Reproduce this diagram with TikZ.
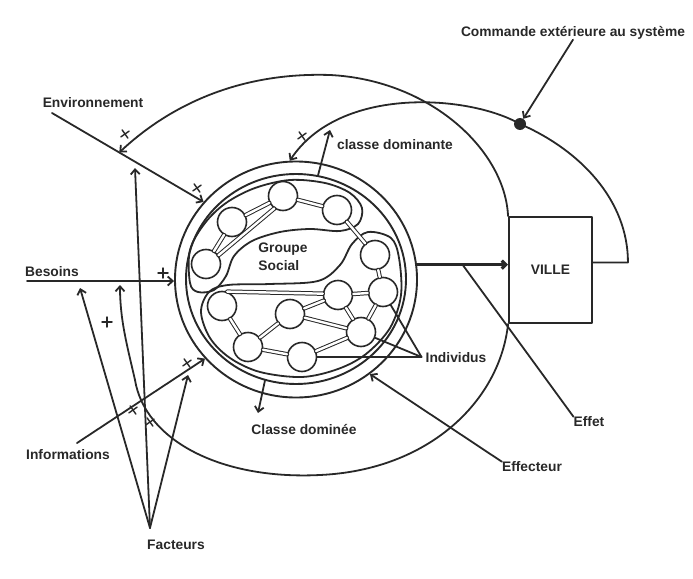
\documentclass[tikz,border=0pt]{standalone}
\usepackage{fontspec}
\setmainfont{Liberation Sans}
\usetikzlibrary{arrows.meta,shapes.geometric,calc}
\definecolor{ink}{RGB}{40,40,40}
\begin{document}
\begin{tikzpicture}[x=1pt,y=1pt,line join=round,line cap=round,
  ln/.style={draw=ink,line width=1.8pt},
  arr/.style={ln,-{Straight Barb[length=5pt,width=9pt]}},
  lbl/.style={font=\fontsize{13.8}{16}\selectfont\bfseries,text=ink,inner sep=0pt},
  person/.style={circle,draw=ink,line width=1.6pt,minimum size=29pt,inner sep=0pt},
  tube/.style={draw=ink,double=white,double distance=2.4pt,line width=1pt},
  ring/.style={ellipse,draw=ink,line width=1.9pt,inner sep=0pt},
  mx/.pic={\draw[ink,line width=1.4pt,rotate=35] (-5,0) -- (5,0) (0,-5) -- (0,5);},
  pl/.pic={\draw[ink,line width=1.5pt] (-5,0) -- (5,0) (0,-5) -- (0,5);}]
\useasboundingbox (0,0) rectangle (693,-578);

% rings
\node[ring,minimum width=242pt,minimum height=236pt] (O) at (296,-279.5) {};
\node[ring,minimum width=220pt,minimum height=210pt] (Inn) at (296,-279) {};

% blobs
\draw[ln] plot[smooth cycle,tension=0.55] coordinates {(190,-283) (190,-250) (205,-223) (226,-203) (255,-188) (290,-180) (325,-183) (350,-193) (362,-208) (358,-224) (340,-231) (310,-229) (280,-232) (252,-241) (234,-256) (226,-276) (214,-290) (198,-292)};
\draw[ln] plot[smooth cycle,tension=0.55] coordinates {(368,-232) (391,-238) (399,-258) (401,-295) (390,-328) (366,-354) (338,-369) (302,-377) (260,-372) (230,-358) (210,-338) (201,-312) (209,-292) (228,-285) (270,-284) (318,-281) (340,-265) (352,-244)};

% individuals
\node[person] (A) at (206,-264) {};
\node[person] (B) at (232,-222) {};
\node[person] (C) at (283,-196) {};
\node[person] (D) at (337,-210) {};
\node[person] (E) at (375,-255) {};
\node[person] (F) at (383,-292) {};
\node[person] (G) at (338,-295) {};
\node[person] (L) at (361,-332) {};
\node[person] (H) at (290,-314) {};
\node[person] (I) at (222,-306) {};
\node[person] (J) at (248,-347) {};
\node[person] (K) at (302,-357) {};

% tubes
\draw[tube] (A) -- (B);
\draw[tube] (A.35) -- (C.235);
\draw[tube] (B) -- (C);
\draw[tube] (C) -- (D);
\draw[tube] (D) -- (E);
\draw[tube] (E) -- (F);
\draw[tube] (F) -- (G);
\draw[tube] (F) -- (L);
\draw[tube] (G) -- (L);
\draw[tube] (G) -- (H);
\draw[tube] (I.70) -- (G.175);
\draw[tube] (I) -- (J);
\draw[tube] (J) -- (H);
\draw[tube] (J) -- (K);
\draw[tube] (K) -- (L);
\draw[tube] (H) -- (L);

% labels
\node[lbl] (Env) at (93,-103) {Environnement};
\node[lbl] (Bes) at (52,-272) {Besoins};
\node[lbl] (Info) at (68,-455) {Informations};
\node[lbl] (Fac) at (176,-545) {Facteurs};
\node[lbl] (Cdn) at (304,-430) {Classe dominée};
\node[lbl] (Eff) at (532,-467) {Effecteur};
\node[lbl] (Effet) at (589,-422) {Effet};
\node[lbl] (Ind) at (456,-358) {Individus};
\node[lbl] (Cd) at (395,-145) {classe dominante};
\node[lbl] (Cmd) at (573,-33) {Commande extérieure au système};
\node[lbl,align=left,font=\fontsize{13.8}{18}\selectfont\bfseries] (GS) at (283,-257) {Groupe\\Social};

% VILLE
\node[lbl,draw=ink,line width=1.9pt,minimum width=83pt,minimum height=106pt] (V) at (550.5,-270) {VILLE};

% coordinates
\coordinate (envS) at (52,-113);
\coordinate (envA) at ($(envS)!0.444!(O.140)$);
\coordinate (bsS) at (27,-281);
\coordinate (besA) at (120,-285);
\coordinate (infS) at (77,-443);
\coordinate (fac) at (150,-528);
\coordinate (f1) at (80,-288);
\coordinate (f2) at (135,-168);
\coordinate (f3) at (188,-375);
\coordinate (cdE) at (258,-413);
\coordinate (cdaE) at (330,-130);
\coordinate (P) at ($(Ind.west)+(-4,1)$);
\coordinate (vR) at ($(V.north east)!0.43!(V.south east)$);
\coordinate (thE) at (O.7 -| V.west);
\coordinate (efA) at ($(O.7)!0.5!(thE)$);
\node[circle,fill=ink,minimum size=12pt,inner sep=0pt] (dot) at (520,-124) {};

% straight inputs
\draw[arr] (envS) -- (O.140);
\draw[arr] (bsS) -- (bsS -| O.west);
\draw[arr] (infS) -- (O.221.6);
\draw[arr] (fac) -- (f1);
\draw[arr] (fac) -- (f2);
\draw[arr] (fac) -- (f3);
\draw[arr] (Eff.north west) -- (O.-52.4);
\draw[arr] (Inn.253.7) -- (cdE);
\draw[arr] (Inn.78) -- (cdaE);
\draw[arr] (Cmd.south) -- (dot);

% individus pointers
\draw[ln] (P) -- (F);
\draw[ln] (P) -- (L);
\draw[ln] (P) -- (K);

% main output
\draw[draw=ink,line width=3.2pt,-{Straight Barb[length=4pt,width=8pt]}] (O.7) -- (thE);
\draw[ln] (efA) -- (Effet.north west);

% feedback loops
\draw[arr] (V.north west) .. controls (505,-150) and (430,-80) .. (330,-75)
  .. controls (240,-72) and (170,-105) .. (envA);
\draw[arr] (V.south west) .. controls (500,-400) and (430,-470) .. (320,-475)
  .. controls (220,-480) and (145,-440) .. (135,-380)
  .. controls (127,-345) and (120,-320) .. (besA);
\draw[arr] (vR) -- ++(35,0) .. controls (628,-200) and (580,-150) .. (dot.center)
  .. controls (470,-95) and (340,-85) .. (O.93);

% signs
\pic at (125,-134) {mx};
\pic at (197,-188) {mx};
\pic at (302,-136) {mx};
\pic at (187,-363) {mx};
\pic at (133,-410) {mx};
\pic at (150,-422) {mx};
\pic at (163,-273) {pl};
\pic at (107,-322) {pl};
\end{tikzpicture}
\end{document}
